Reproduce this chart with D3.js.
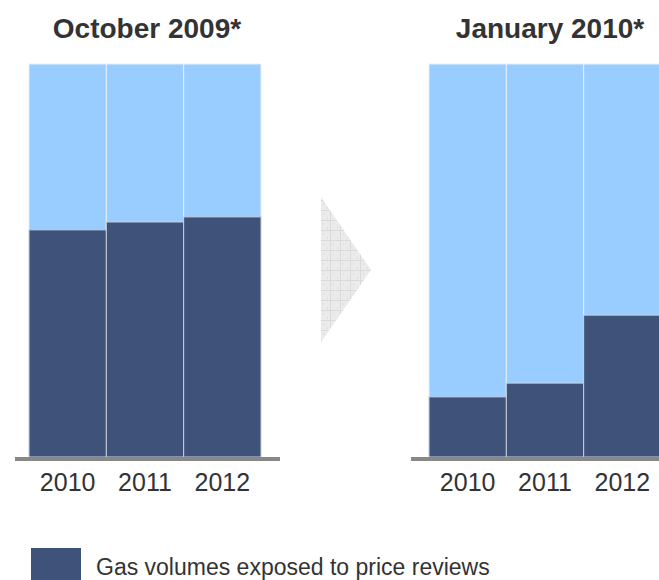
<!DOCTYPE html>
<html>
<head>
<meta charset="utf-8">
<script src="https://cdn.jsdelivr.net/npm/d3@7"></script>
<style>
  body { margin: 0; background: #fff; }
  text { font-family: "Liberation Sans", Arial, sans-serif; }
</style>
</head>
<body>
<div id="chart"></div>
<script>
// data (share of volume, %)
var years = ["2010", "2011", "2012"];
var octExposed = [57.8, 59.8, 61.1];
var janExposed = [15.3, 18.8, 36.1];
var total = 100;
var titles = ["October 2009*", "January 2010*"];
var legendLabel = "Gas volumes exposed to price reviews";

var width = 659, height = 580;
var dark = "#3f527a", light = "#99ccff";

var svg = d3.select("#chart")
  .append("svg")
  .attr("width", width)
  .attr("height", height);

// grid pattern for the arrow
var defs = svg.append("defs");
var pat = defs.append("pattern")
  .attr("id", "grid")
  .attr("width", 10)
  .attr("height", 10)
  .attr("patternUnits", "userSpaceOnUse");
pat.append("rect").attr("width", 10).attr("height", 10).attr("fill", "#ebebeb");
pat.append("path").attr("d", "M0,0.5H10M0.5,0V10")
  .attr("stroke", "#dadada").attr("stroke-width", 1);
pat.append("path").attr("d", "M3,4h1M7,8h1")
  .attr("stroke", "#d0d0d0").attr("stroke-width", 1);

var y = d3.scaleLinear().domain([0, total]).range([457, 64]);

var panels = [
  { title: titles[0], values: octExposed, range: [29, 261], axis: [15, 280], cx: 147 },
  { title: titles[1], values: janExposed, range: [429, 661], axis: [411, 659], cx: 550 }
];

panels.forEach(function (p) {
  var x = d3.scaleBand().domain(years).range(p.range).padding(0);
  var g = svg.append("g");

  // light (total) bars
  g.selectAll(".tot")
    .data(years)
    .enter()
    .append("rect")
    .attr("x", function (d) { return x(d); })
    .attr("y", y(total))
    .attr("width", x.bandwidth())
    .attr("height", y(0) - y(total))
    .attr("fill", light)
    .attr("stroke", "#e6f0fb")
    .attr("stroke-width", 1);

  // dark (exposed) bars
  g.selectAll(".exp")
    .data(p.values)
    .enter()
    .append("rect")
    .attr("x", function (d, i) { return x(years[i]); })
    .attr("y", function (d) { return y(d); })
    .attr("width", x.bandwidth())
    .attr("height", function (d) { return y(0) - y(d); })
    .attr("fill", dark)
    .attr("stroke", "#c9d0dc")
    .attr("stroke-width", 1);

  // baseline
  g.append("line")
    .attr("x1", p.axis[0]).attr("x2", p.axis[1])
    .attr("y1", y(0) + 2).attr("y2", y(0) + 2)
    .attr("stroke", "#888888")
    .attr("stroke-width", 4);

  // year labels
  g.selectAll(".lbl")
    .data(years)
    .enter()
    .append("text")
    .attr("x", function (d) { return x(d) + x.bandwidth() / 2; })
    .attr("y", 491)
    .attr("text-anchor", "middle")
    .attr("font-size", 25)
    .attr("fill", "#333")
    .text(function (d) { return d; });

  // title
  g.append("text")
    .attr("x", p.cx)
    .attr("y", 38)
    .attr("text-anchor", "middle")
    .attr("font-size", 28)
    .attr("font-weight", "bold")
    .attr("fill", "#333")
    .text(p.title);
});

// arrow between panels
svg.append("path")
  .attr("d", "M321,197L371,270L321,342Z")
  .attr("fill", "url(#grid)");

// legend
svg.append("rect")
  .attr("x", 31).attr("y", 548)
  .attr("width", 50).attr("height", 34)
  .attr("fill", dark);
svg.append("text")
  .attr("x", 96).attr("y", 575)
  .attr("font-size", 23)
  .attr("fill", "#333")
  .text(legendLabel);
</script>
</body>
</html>
